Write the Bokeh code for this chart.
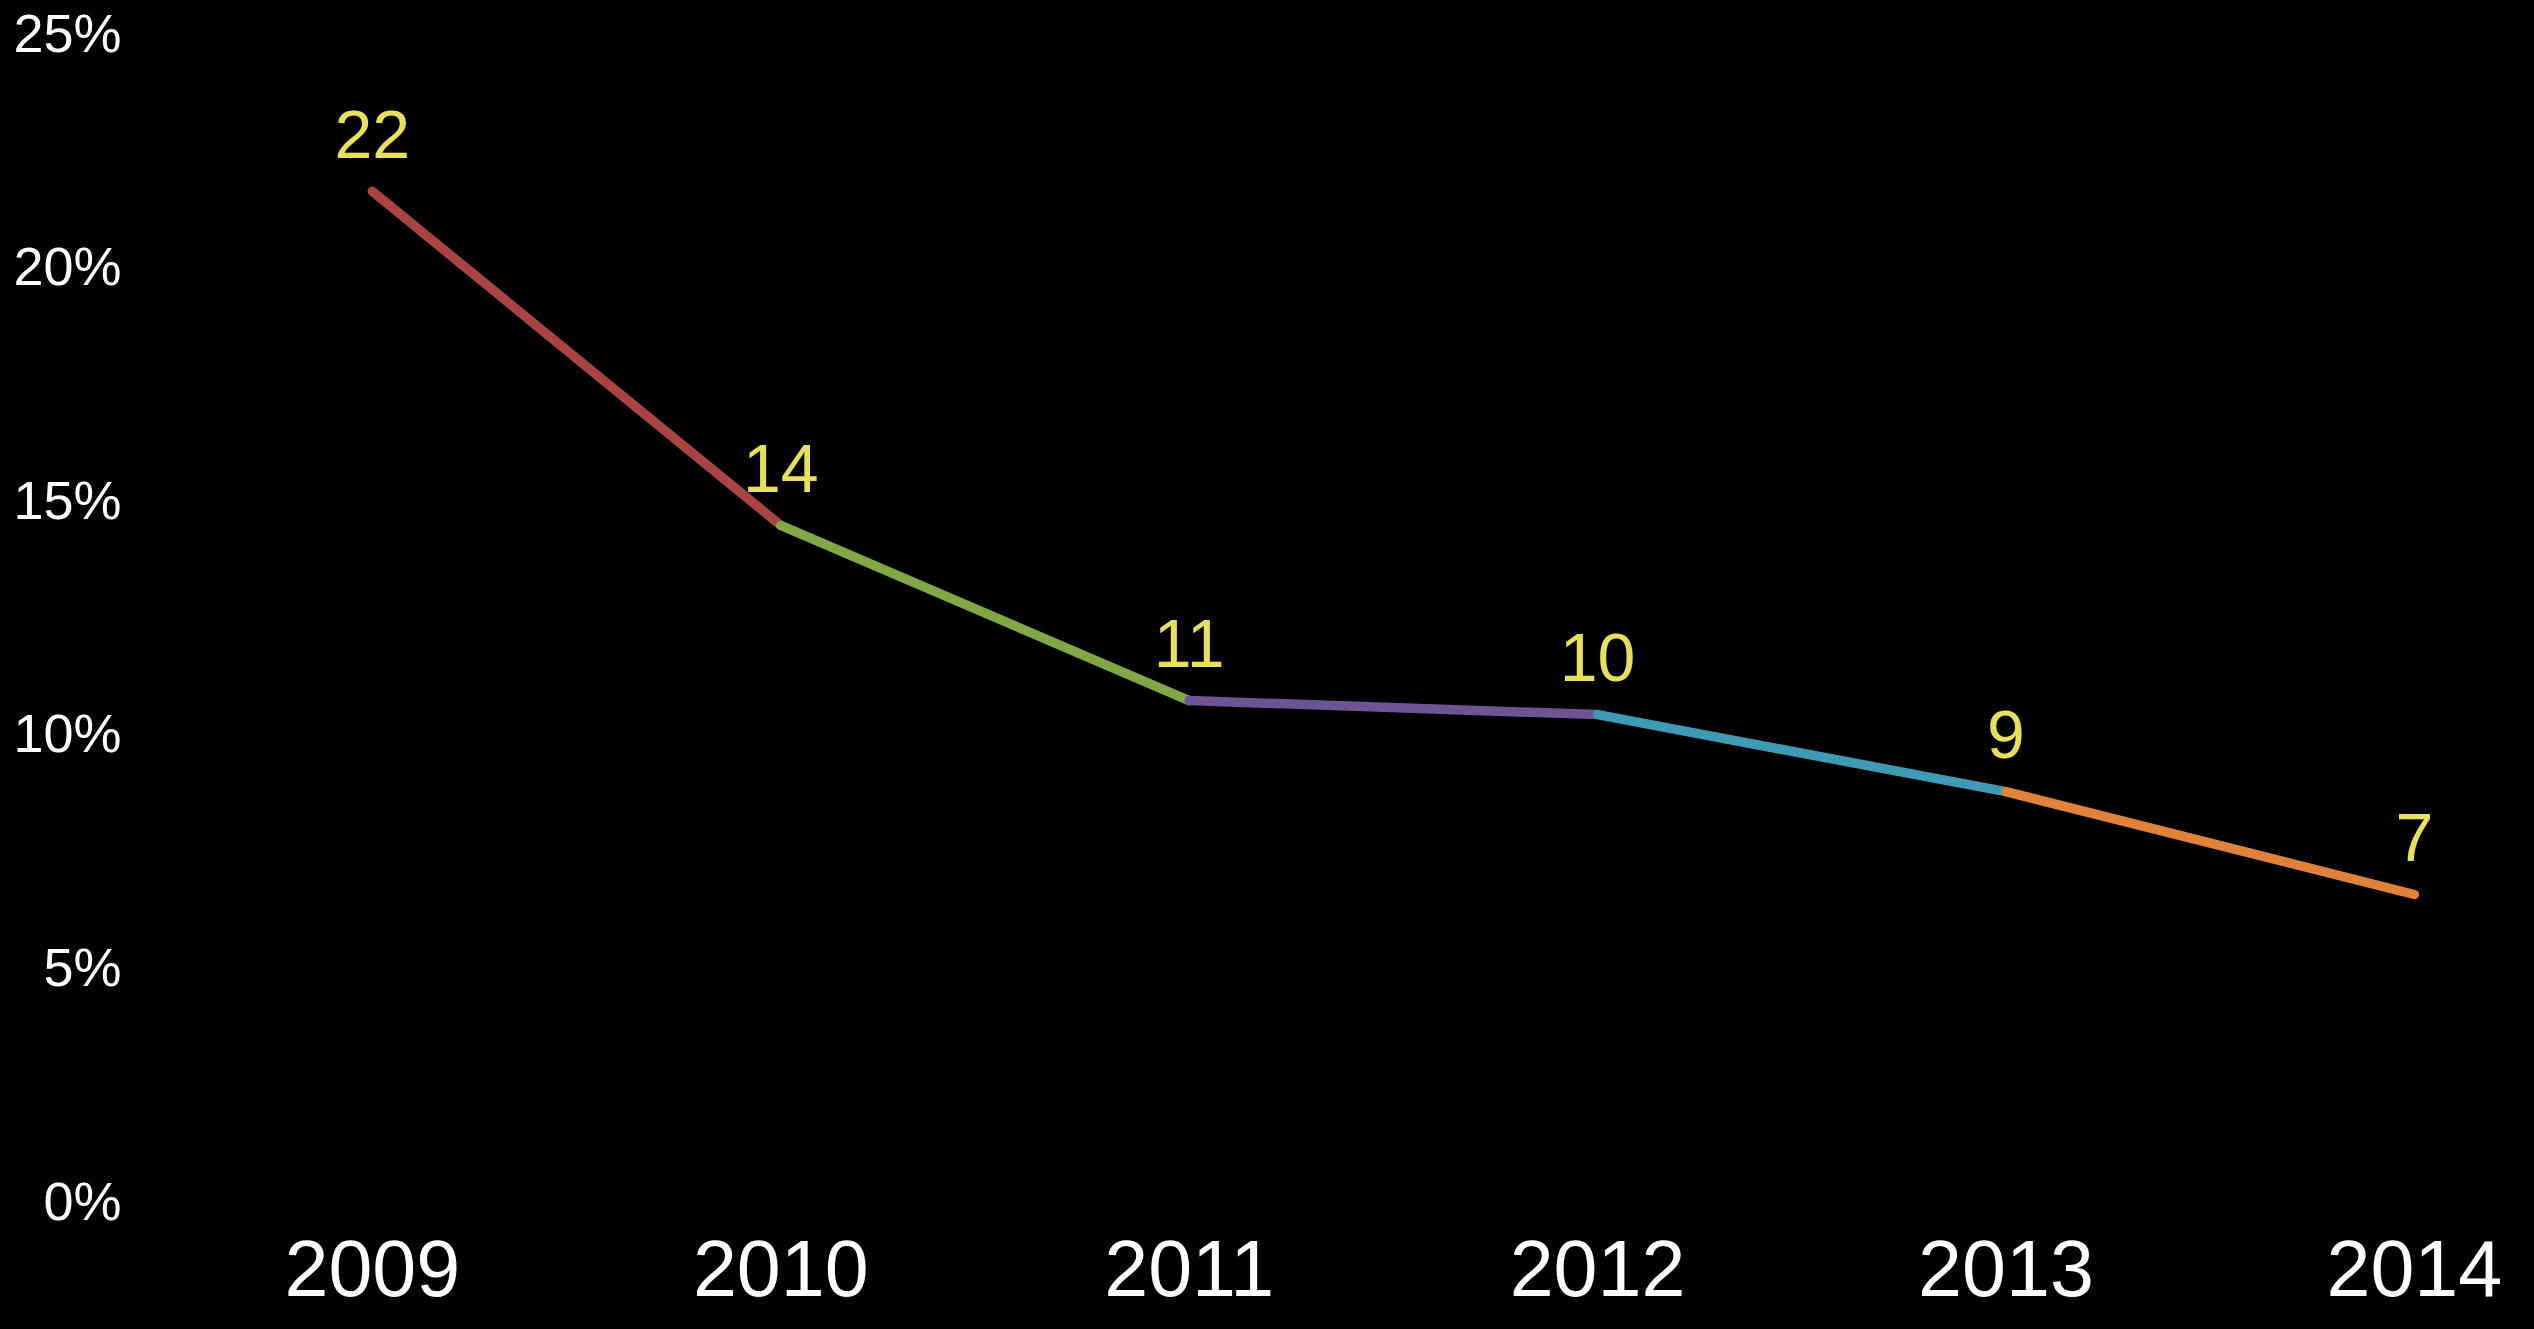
from bokeh.plotting import figure
from bokeh.models import Range1d, FixedTicker, ColumnDataSource
from bokeh.core.properties import value
from bokeh.embed import file_html
from bokeh.resources import INLINE

years = [2009, 2010, 2011, 2012, 2013, 2014]
year_labels = ["2009", "2010", "2011", "2012", "2013", "2014"]
rates = [21.6, 14.45, 10.7, 10.4, 8.75, 6.55]
rate_labels = ["22", "14", "11", "10", "9", "7"]
segment_colors = ["#A94442", "#82A745", "#6E5494", "#3E9AB5", "#E0823A"]
y_ticks = [0, 5, 10, 15, 20, 25]
y_tick_labels = ["0%", "5%", "10%", "15%", "20%", "25%"]

FONT = "Liberation Sans"

p = figure(width=2518, height=1313, output_backend="svg", toolbar_location=None,
           x_range=Range1d(2008.42, 2014.255), y_range=Range1d(0, 25),
           min_border_left=135, min_border_right=0, min_border_top=32,
           min_border_bottom=113)
p.background_fill_color = "black"
p.border_fill_color = "black"
p.outline_line_color = None
p.outline_line_alpha = 0
p.xgrid.visible = False
p.ygrid.visible = False

seg = ColumnDataSource(dict(x0=years[:-1], y0=rates[:-1], x1=years[1:], y1=rates[1:],
                            c=segment_colors))
p.segment("x0", "y0", "x1", "y1", source=seg, line_color="c", line_width=9.5,
          line_cap="round")

lab = ColumnDataSource(dict(x=years, y=rates, t=rate_labels))
p.text("x", "y", text="t", source=lab, text_color="#E8E05A", text_font=value(FONT),
       text_font_size="68px", text_align="center", text_baseline="alphabetic",
       y_offset=-57)

p.xaxis.ticker = FixedTicker(ticks=years)
p.xaxis.major_label_overrides = {y: l for y, l in zip(years, year_labels)}
p.yaxis.ticker = FixedTicker(ticks=y_ticks)
p.yaxis.major_label_overrides = {t: l for t, l in zip(y_ticks, y_tick_labels)}

for ax in (p.xaxis[0], p.yaxis[0]):
    ax.axis_line_color = None
    ax.axis_line_alpha = 0
    ax.major_tick_line_color = None
    ax.minor_tick_line_color = None
    ax.major_tick_out = 0
    ax.major_tick_in = 0
    ax.major_label_text_color = "white"
    ax.major_label_text_font = FONT

p.xaxis.major_label_text_font_size = "79px"
p.xaxis.major_label_standoff = 40
p.yaxis.major_label_text_font_size = "54px"
p.yaxis.major_label_standoff = 14

html = file_html(p, INLINE)
style = "<style>html, body { background-color: #000 !important; }</style>"
html = html.replace("</head>", style + "\n</head>", 1)
open("out.html", "w").write(html)
